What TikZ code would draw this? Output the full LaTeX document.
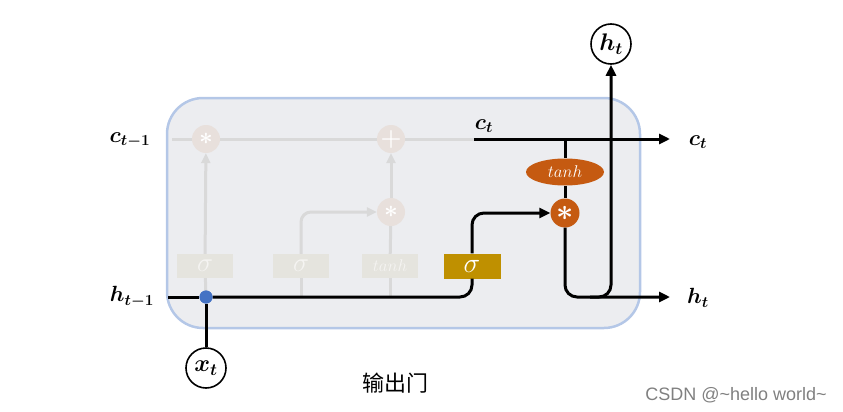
\RequirePackage{fix-cm}
\documentclass[tikz,border=0pt]{standalone}
\usepackage{fontspec}
\usepackage{amsmath,bm}
\newfontfamily\cjk{Noto Sans CJK SC}
\newfontfamily\marcafont{Liberation Sans}
\usetikzlibrary{arrows.meta,shapes.geometric}
\definecolor{fondo}{HTML}{ECEDF0}
\definecolor{borde}{HTML}{B4C7E7}
\definecolor{tenue}{HTML}{D9D9D9}
\definecolor{circtenue}{HTML}{E8E0DC}
\definecolor{cajatenue}{HTML}{E5E4DE}
\definecolor{naranja}{HTML}{C55A11}
\definecolor{oro}{HTML}{BF9000}
\definecolor{azul}{HTML}{4472C4}
\begin{document}
\begin{tikzpicture}[x=1pt,y=-1pt,
    linea/.style={line width=3pt,rounded corners=12pt},
    flecha/.style={linea,-{Triangle[length=11pt,width=10pt]}},
    lineatenue/.style={line width=3pt,draw=tenue,rounded corners=10pt},
    flechatenue/.style={lineatenue,-{Triangle[length=10pt,width=9pt]}},
    etiq/.style={font=\fontsize{22}{24}\selectfont},
    optenue/.style={circle,fill=circtenue,minimum size=28pt,inner sep=0pt,text=white,font=\fontsize{24}{24}\selectfont},
    cajat/.style={fill=cajatenue,minimum width=56pt,minimum height=24pt,inner sep=0pt,text=white!60!cajatenue,font=\fontsize{27}{27}\selectfont},
    entrada/.style={circle,draw,line width=1.6pt,fill=white,minimum size=40pt,inner sep=0pt,font=\fontsize{24}{24}\selectfont}]
    \useasboundingbox (0,0) rectangle (843,412);
    % celda
    \draw[fill=fondo,draw=borde,line width=2.5pt,rounded corners=36pt] (167,98) rectangle (640,328);
    % parte tenue (olvido, entrada)
    \node[optenue] (m1) at (206,139) {$\bm{\ast}$};
    \node[optenue] (m2) at (391,139) {$\bm{+}$};
    \node[optenue] (m3) at (391,212) {$\bm{\ast}$};
    \node[cajat] (s1) at (205,266) {$\sigma$};
    \node[cajat] (s2) at (301,266) {$\sigma$};
    \node[cajat,font=\fontsize{17}{17}\selectfont] (s3) at (390,266) {$tanh$};
    \coordinate (ci) at (172,139);
    \coordinate (cm) at (475,139);
    \draw[lineatenue] (ci) -- (m1) -- (m2) -- (cm);
    \draw[lineatenue] (206,298) -- (s1);
    \draw[flechatenue] (s1) -- (m1);
    \draw[lineatenue] (301,298) -- (s2);
    \draw[flechatenue] (s2) |- (m3);
    \draw[lineatenue] (390,298) -- (s3);
    \draw[lineatenue] (s3) -- (m3);
    \draw[flechatenue] (m3) -- (m2);
    % etiquetas de la izquierda
    \node[etiq] (lc) at (130,140) {$\bm{c_{t-1}}$};
    \node[etiq] (lh) at (132,297) {$\bm{h_{t-1}}$};
    % compuerta de salida
    \node[fill=oro,minimum width=57pt,minimum height=25pt,inner sep=0pt,text=white,font=\fontsize{28}{28}\selectfont] (og) at (472,266) {$\sigma$};
    \node[ellipse,fill=naranja,minimum width=78pt,minimum height=27pt,inner sep=0pt,text=white,font=\fontsize{17}{17}\selectfont] (th) at (565,172) {$tanh$};
    \node[circle,fill=naranja,minimum size=29pt,inner sep=0pt,text=white,font=\fontsize{30}{30}\selectfont] (mo) at (565,213) {$\bm{\ast}$};
    \node[circle,fill=azul,minimum size=13pt,inner sep=0pt] (punto) at (206,297) {};
    \node[entrada] (xt) at (206,368) {$\bm{x_t}$};
    \node[entrada] (ht) at (611,44) {$\bm{h_t}$};
    % h_{t-1} hacia sigma y producto
    \coordinate (hi) at (168,297);
    \draw[linea] (hi) -- (punto);
    \draw[linea] (punto) -| (og);
    \draw[flecha] (og) |- (mo);
    \draw[line width=3pt] (punto) -- (xt);
    \node[circle,fill=azul,minimum size=13pt,inner sep=0pt] at (punto) {};
    % c_t
    \coordinate (c0) at (474,139);
    \coordinate (cf) at (670,139);
    \coordinate (cj) at (565,139);
    \draw[flecha] (c0) -- (cf);
    \node[etiq] (lct) at (484,126) {$\bm{c_t}$};
    \node[etiq] (lcd) at (698,142) {$\bm{c_t}$};
    \draw[linea] (cj) -- (th);
    \draw[linea] (th) -- (mo);
    % h_t
    \coordinate (hf) at (670,297);
    \coordinate (hb) at (590,297);
    \draw[flecha] (mo) |- (hf);
    \draw[flecha] (hb) -| (ht);
    \node[etiq] (lhd) at (698,298) {$\bm{h_t}$};
    % titulo
    \node[font=\cjk\fontsize{22}{24}\selectfont] (titulo) at (395,383) {输出门};
    \node[font=\marcafont\fontsize{18}{20}\selectfont,text=gray] (marca) at (736,395) {CSDN @\textasciitilde hello world\textasciitilde};
\end{tikzpicture}
\end{document}
